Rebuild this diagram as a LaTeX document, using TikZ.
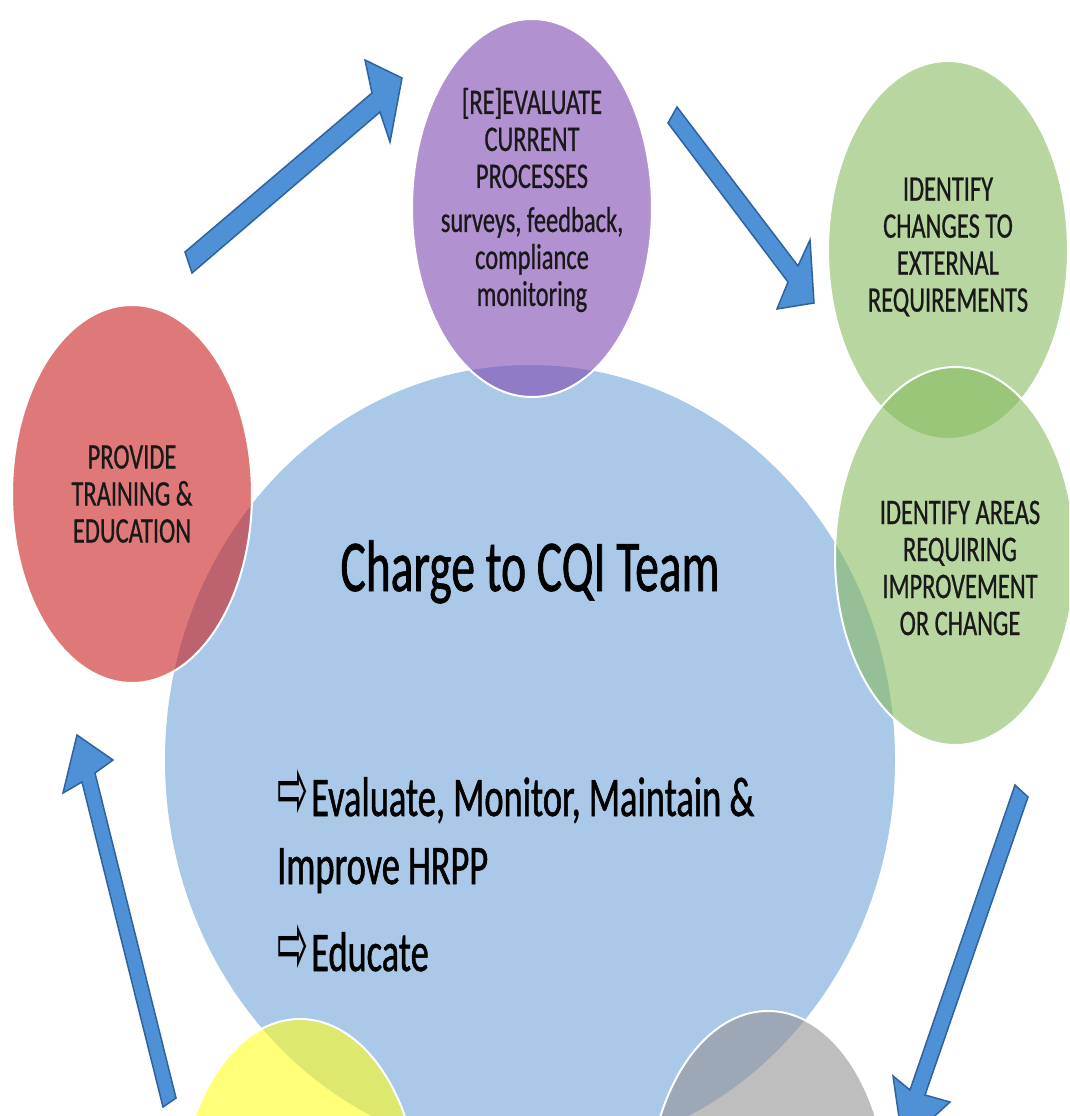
\documentclass[tikz,border=0pt]{standalone}
\usepackage{fontspec}
\setmainfont{Carlito}[FakeStretch=0.68, FakeBold=0.6]
\newfontfamily\bigfont{Carlito}[FakeStretch=0.65, FakeBold=0.9]
\newfontfamily\symfont{DejaVu Sans}
\usetikzlibrary{shapes.geometric}
\definecolor{cqiblue}{RGB}{170,200,232}
\definecolor{cpurple}{RGB}{127,72,177}
\definecolor{cred}{RGB}{203,33,33}
\definecolor{cgreen}{RGB}{135,188,97}
\definecolor{cyellow}{RGB}{255,255,30}
\definecolor{cgray}{RGB}{147,147,147}
\definecolor{arrfill}{RGB}{79,145,214}
\definecolor{arrline}{RGB}{48,98,158}
\newcommand\arrsym{{\symfont\fontsize{37}{37}\selectfont\raisebox{-3pt}{\scalebox{1}[2.4]{⇨}}}\hspace{3pt}}
\tikzset{
  bubble/.style={ellipse, draw=white, line width=2pt, fill opacity=0.6, text opacity=1,
    minimum width=240pt, minimum height=378pt, inner sep=0pt},
  lbl/.style={align=center, font=\fontsize{36}{37}\selectfont, text=black!90, inner sep=0pt},
  bul/.style={anchor=base west, font=\bigfont\fontsize{56}{60}\selectfont, text=black, inner sep=0pt},
  blockarrow/.style={fill=arrfill, draw=arrline, line width=1.5pt, line join=miter}
}
\begin{document}
\begin{tikzpicture}[x=1pt,y=-1pt]
\useasboundingbox (0,0) rectangle (1069,1116);
\begin{scope}
\clip (0,0) rectangle (1069,1116);
\fill[white] (0,0) rectangle (1069,1116);
% central circle
\node[ellipse, fill=cqiblue, minimum width=730pt, minimum height=790pt, inner sep=0pt] (core) at (530,760) {};
% surrounding circles
\node[bubble, fill=cred] (train) at (132,494) {};
\node[bubble, fill=cpurple] (eval) at (532,208) {};
\node[bubble, fill=cgreen] (ext) at (948,250) {};
\node[bubble, fill=cgreen] (areas) at (955,556) {};
\node[bubble, fill=cyellow] (yel) at (300,1208) {};
\node[bubble, fill=cgray] (gry) at (768,1200) {};
% labels
\node[lbl] (evaltxt) at (532,200) {[RE]EVALUATE\\CURRENT\\PROCESSES\\[7pt]surveys, feedback,\\compliance\\monitoring};
\node[lbl] (traintxt) at (132,494) {PROVIDE\\TRAINING \&\\EDUCATION};
\node[lbl] (exttxt) at (948,247) {IDENTIFY\\CHANGES TO\\EXTERNAL\\REQUIREMENTS};
\node[lbl] (areastxt) at (960,568) {IDENTIFY AREAS\\REQUIRING\\IMPROVEMENT\\OR CHANGE};
\node[anchor=base, font=\bigfont\fontsize{73}{80}\selectfont, text=black, inner sep=0pt] (title) at (530,591) {Charge to CQI Team};
\node[bul] (b1) at (277,816) {\arrsym Evaluate, Monitor, Maintain \&};
\node[bul] (b2) at (277,884) {Improve HRPP};
\node[bul] (b3) at (277,971) {\arrsym Educate};
% block arrows
\draw[blockarrow] (185,252) -- (372,93) -- (365,60) -- (402,78) -- (390,142) -- (380,112) -- (192,273) -- cycle;
\draw[blockarrow] (677,107) -- (798,266) -- (810,240) -- (814,303) -- (777,309) -- (788,282) -- (668,123) -- cycle;
\draw[blockarrow] (1028,797) -- (925,1095) -- (950,1102) -- (903,1145) -- (893,1076) -- (910,1090) -- (1015,785) -- cycle;
\draw[blockarrow] (163,1107) -- (82,782) -- (63,793) -- (77,735) -- (113,760) -- (95,773) -- (176,1098) -- cycle;
\end{scope}
\end{tikzpicture}
\end{document}
